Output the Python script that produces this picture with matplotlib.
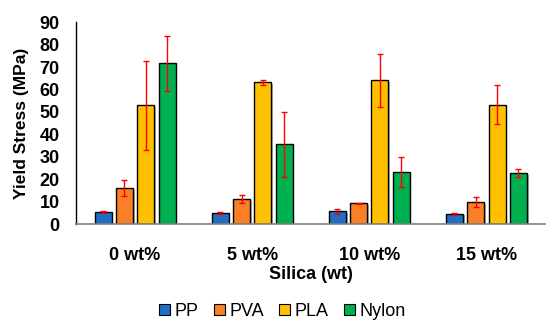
import matplotlib
matplotlib.use("Agg")
import matplotlib.pyplot as plt
import matplotlib.patheffects as pe
import numpy as np

plt.rcParams['font.family'] = ['Liberation Sans', 'DejaVu Sans']

categories = ["0 wt%", "5 wt%", "10 wt%", "15 wt%"]
series = ["PP", "PVA", "PLA", "Nylon"]
pp = [5.6, 5.0, 5.8, 4.7]
pva = [16.1, 11.1, 9.3, 9.9]
pla = [52.9, 63.2, 64.1, 53.3]
nylon = [71.7, 35.7, 23.1, 22.8]
pp_err = [0.5, 0.5, 1.0, 0.4]
pva_err = [3.7, 1.8, 0.3, 2.4]
pla_err = [19.9, 1.0, 11.8, 8.8]
nylon_err = [12.2, 14.5, 6.7, 1.8]
yticks = [0, 10, 20, 30, 40, 50, 60, 70, 80, 90]

values = [pp, pva, pla, nylon]
errors = [pp_err, pva_err, pla_err, nylon_err]
colors = ["#1F6FC6", "#F98024", "#FFC000", "#00B050"]

fig = plt.figure(figsize=(5.5, 3.26), dpi=100)
ax = fig.add_axes([0.139, 0.312, 0.852, 0.620])

x = np.arange(len(categories))
step = 0.182
width = 0.145
shadow = [pe.SimplePatchShadow(offset=(1.2, -1.2), shadow_rgbFace="#808080", alpha=0.6), pe.Normal()]
for i, (vals, errs, col, name) in enumerate(zip(values, errors, colors, series)):
    pos = x + (i - 1.5) * step
    bars = ax.bar(pos, vals, width, color=col, edgecolor="black", linewidth=1.0, label=name, zorder=2)
    for b in bars:
        b.set_path_effects(shadow)
    ax.errorbar(pos, vals, yerr=errs, fmt="none", ecolor="#FF0000", elinewidth=1.0,
                capsize=2.5, capthick=1.0, zorder=3)

ax.set_xlim(-0.5, len(categories) - 0.5)
ax.set_ylim(0, 90)
ax.set_yticks(yticks)
ax.set_xticks(x)
ax.set_xticklabels(categories, fontsize=13, fontweight="bold")
ax.set_yticklabels([str(t) for t in yticks], fontsize=13, fontweight="bold")
ax.tick_params(axis="both", length=0)
ax.tick_params(axis="x", pad=16)
ax.tick_params(axis="y", pad=12)

for s in ["top", "right"]:
    ax.spines[s].set_visible(False)
ax.spines["left"].set_color("#000000")
ax.spines["left"].set_linewidth(1.0)
ax.spines["bottom"].set_color("#808080")
ax.spines["bottom"].set_linewidth(1.2)

ax.set_xlabel("Silica (wt)", fontsize=13, fontweight="bold", labelpad=2)
ax.set_ylabel("Yield Stress (MPa)", fontsize=12.5, fontweight="bold", labelpad=8)

leg = fig.legend(loc="center", bbox_to_anchor=(0.513, 0.045), ncol=4, frameon=False,
                 fontsize=13, handlelength=0.6, handleheight=0.6, handletextpad=0.25,
                 columnspacing=0.85)
for h in leg.legend_handles:
    h.set_path_effects([])
    h.set_edgecolor("black")
    h.set_linewidth(0.8)

fig.savefig("out.png", dpi=100)
